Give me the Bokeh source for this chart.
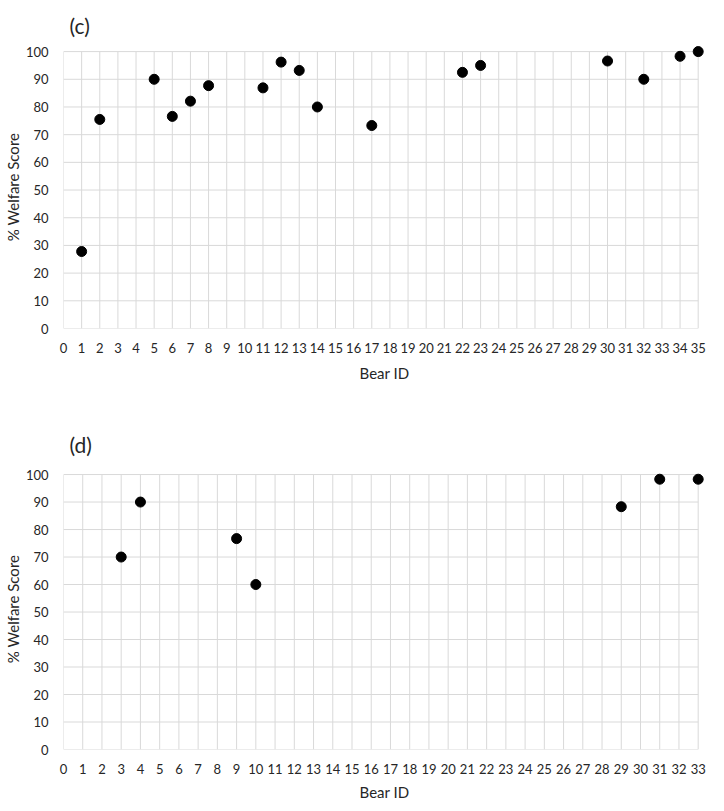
from bokeh.plotting import figure
from bokeh.layouts import column
from bokeh.models import Range1d, FixedTicker, Title
from bokeh.embed import file_html
from bokeh.resources import INLINE

# ---- data ----
c_ids = [1, 2, 5, 6, 7, 8, 11, 12, 13, 14, 17, 22, 23, 30, 32, 34, 35]
c_scores = [27.8, 75.5, 90.0, 76.6, 82.1, 87.7, 86.9, 96.2, 93.2, 80.0, 73.3, 92.5, 95.0, 96.6, 90.0, 98.3, 100.0]
d_ids = [3, 4, 9, 10, 29, 31, 33]
d_scores = [70.0, 90.0, 76.7, 60.0, 88.3, 98.3, 98.3]
y_ticks = list(range(0, 101, 10))
c_x_ticks = list(range(0, 36))
d_x_ticks = list(range(0, 34))

FONT = "Lato"
TXT = "#262626"
GRID = "#d9d9d9"


def make_panel(label, ids, scores, x_ticks, height, top, bottom, title_size, title_standoff,
               x_std, x_lab_std):
    xmax = x_ticks[-1]
    p = figure(width=708, height=height, output_backend="svg", toolbar_location=None,
               x_range=Range1d(0, xmax * 1.0115), y_range=Range1d(0, 102.2),
               min_border_left=59, min_border_right=3, min_border_top=top,
               min_border_bottom=bottom)
    p.outline_line_color = None
    p.xgrid.visible = False
    p.ygrid.visible = False
    # grid lines limited to the data box
    ymax = y_ticks[-1]
    p.segment(x0=x_ticks, y0=[0] * len(x_ticks), x1=x_ticks, y1=[ymax] * len(x_ticks),
              line_color=GRID, line_width=1)
    p.segment(x0=[0] * len(y_ticks), y0=y_ticks, x1=[xmax] * len(y_ticks), y1=y_ticks,
              line_color=GRID, line_width=1)
    p.scatter(ids, scores, size=10, color="black")

    for ax in (p.xaxis[0], p.yaxis[0]):
        ax.axis_line_color = None
        ax.major_tick_line_color = None
        ax.minor_tick_line_color = None
        ax.major_label_text_font = FONT
        ax.major_label_text_font_size = "13px"
        ax.major_label_text_color = TXT
        ax.axis_label_text_font = FONT
        ax.axis_label_text_font_size = "15px"
        ax.axis_label_text_color = TXT
        ax.axis_label_text_font_style = "normal"
    p.xaxis.ticker = FixedTicker(ticks=x_ticks)
    p.yaxis.ticker = FixedTicker(ticks=y_ticks)
    p.xaxis.axis_label = "Bear ID"
    p.yaxis.axis_label = "% Welfare Score"
    p.xaxis.major_label_standoff = x_std
    p.yaxis.major_label_standoff = 9
    p.xaxis.axis_label_standoff = x_lab_std
    p.yaxis.axis_label_standoff = 1

    t = Title(text=label, align="left", offset=6, text_font=FONT, text_font_size=title_size,
              text_font_style="normal", text_color=TXT, standoff=title_standoff)
    p.add_layout(t, "above")
    return p


p1 = make_panel("(c)", c_ids, c_scores, c_x_ticks, 400, 45, 72, "21px", 16, 8, 8)
p2 = make_panel("(d)", d_ids, d_scores, d_x_ticks, 403, 68, 52, "21px", 24, 8, 6)

layout = column(p1, p2, spacing=0)
open("out.html", "w").write(file_html(layout, INLINE))
